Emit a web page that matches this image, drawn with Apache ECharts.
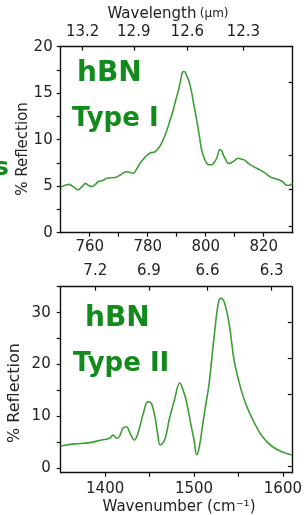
<!DOCTYPE html>
<html>
<head>
<meta charset="utf-8">
<script src="https://cdn.jsdelivr.net/npm/echarts@6/dist/echarts.min.js"></script>
<style>
html,body{margin:0;padding:0;background:#fff;}
#chart{width:305px;height:515px;}
</style>
</head>
<body>
<div id="chart"></div>
<script>
// ---- Data ----
// Type I panel: wavenumber (cm-1) and % reflection
const typeIWavenumber = [750,751.5,753,754.5,756,757.5,758.5,759.5,760.7,762,763,764.5,765.9,767.5,769.3,770.5,772,772.8,775,776.3,777.3,778.5,779.7,781,782.5,784.2,785.5,786.6,787.7,788.8,789.7,790.6,791.5,792.1,792.8,793.4,794.3,795.2,796,796.9,797.8,798.6,799.5,800.3,801.2,802.1,803,803.8,804.9,805.5,806.1,807,807.8,808.7,809.5,811.2,812.5,813.5,814.7,816.5,818.7,820.5,822.2,824,825.6,826.8,827.9,829,830];
const typeIReflection = [4.9,5.1,5.2,4.9,4.6,5.0,5.3,5.1,4.95,5.2,5.5,5.6,5.85,5.9,6.0,6.2,6.5,6.55,6.4,6.9,7.45,7.9,8.3,8.6,8.7,9.3,10.1,11.0,12.1,13.2,14.3,15.3,16.6,17.3,17.3,16.95,16.2,15.0,13.6,12.1,10.4,8.9,8.0,7.5,7.3,7.3,7.6,8.0,8.95,8.8,8.35,7.8,7.45,7.5,7.65,8.0,7.9,7.8,7.45,7.1,6.75,6.4,6.0,5.8,5.65,5.4,5.1,5.1,5.3];
// Type II panel
const typeIIWavenumber = [1350,1366,1381,1396,1405,1409,1413,1416,1420,1424,1428,1433,1436,1439,1443,1448,1452,1456,1459,1462,1467,1472,1478,1484,1487,1491,1497,1500,1503,1506,1510,1513,1517,1523,1528,1531,1535,1540,1545,1551,1558,1568,1577,1588,1599,1610];
const typeIIReflection = [4.3,4.7,4.9,5.45,5.8,6.4,5.8,6.1,7.7,8.0,6.75,5.45,6.3,8.0,10.6,12.8,12.5,9.95,6.75,4.5,5.45,9.3,13.2,16.5,15.4,13.2,8.0,5.45,2.6,4.2,8.7,12.0,16.4,26.0,32.4,32.75,31.5,27.3,20.9,16.4,12.5,8.7,6.1,4.2,3.2,2.55];
// Tick labels
const typeIWavelengthTicks = [13.2,12.9,12.6,12.3];
const typeIIWavelengthTicks = [7.2,6.9,6.6,6.3];
const typeIIYTickLabels = [0,10,20,30];
const typeIIYTicks = [0,5,10,15,20,25,30,35];
const typeIRightTicks = [0.65,4.67,8.35,16.2];
const typeIIRightTicks = [0.3,14.3,21.2,28.2];

const FONT = 'DejaVu Sans';
const lineColor = '#3c9e34';
const textGreen = '#128a1c';
const axisCol = '#111';
const lblCol = '#222';

function baseAxis(extra){
  return Object.assign({
    type:'value',
    splitLine:{show:false},
    axisLine:{show:true,onZero:false,lineStyle:{color:axisCol,width:1.4}},
    axisTick:{show:true,length:4,lineStyle:{color:axisCol,width:1.2}},
    axisLabel:{color:lblCol,fontFamily:FONT,fontSize:15}
  }, extra);
}

const chart = echarts.init(document.getElementById('chart'), null, {renderer:'canvas'});
const option = {
  animation:false,
  backgroundColor:'#fff',
  grid:[
    {left:60.7, right:12.3, top:46.7, height:186},
    {left:60.7, right:12.3, top:286.7, height:186}
  ],
  xAxis:[
    baseAxis({gridIndex:0, position:'bottom', min:750, max:830, interval:10,
      axisTick:{show:true,length:4,lineStyle:{color:axisCol,width:1.2}},
      axisLabel:{color:lblCol,fontFamily:FONT,fontSize:15,margin:7,showMinLabel:false,showMaxLabel:false,
        formatter:v=> (v%20===0 ? String(v) : '')}}),
    baseAxis({gridIndex:0, position:'top', min:750, max:830,
      axisTick:{show:true,inside:true,length:4,customValues:typeIWavelengthTicks.map(l=>10000/l),lineStyle:{color:axisCol,width:1.2}},
      axisLabel:{color:lblCol,fontFamily:FONT,fontSize:15,margin:7,customValues:typeIWavelengthTicks.map(l=>10000/l),
        formatter:v=>(10000/v).toFixed(1)}}),
    baseAxis({gridIndex:1, position:'bottom', min:1350, max:1610, interval:50,
      axisLabel:{color:lblCol,fontFamily:FONT,fontSize:15,margin:9,showMinLabel:false,showMaxLabel:false,
        formatter:v=> (v%100===0 ? String(v) : '')}}),
    baseAxis({gridIndex:1, position:'top', min:1350, max:1610,
      axisTick:{show:true,inside:true,length:4,customValues:typeIIWavelengthTicks.map(l=>10000/l),lineStyle:{color:axisCol,width:1.2}},
      axisLabel:{color:lblCol,fontFamily:FONT,fontSize:15,margin:8,customValues:typeIIWavelengthTicks.map(l=>10000/l),
        formatter:v=>(10000/v).toFixed(1)}})
  ],
  yAxis:[
    baseAxis({gridIndex:0, position:'left', min:0, max:20, interval:2.5,
      axisLabel:{color:lblCol,fontFamily:FONT,fontSize:15,margin:8,
        formatter:v=> (v%5===0 ? String(v) : '')}}),
    baseAxis({gridIndex:0, position:'right', min:0, max:20,
      axisTick:{show:true,inside:true,length:4,customValues:typeIRightTicks,lineStyle:{color:axisCol,width:1.2}},
      axisLabel:{show:false}}),
    baseAxis({gridIndex:1, position:'left', min:-0.85, max:35,
      axisTick:{show:true,length:4,customValues:typeIIYTicks,lineStyle:{color:axisCol,width:1.2}},
      axisLabel:{color:lblCol,fontFamily:FONT,fontSize:15,margin:10,customValues:typeIIYTickLabels}}),
    baseAxis({gridIndex:1, position:'right', min:-0.85, max:35,
      axisTick:{show:true,inside:true,length:4,customValues:typeIIRightTicks,lineStyle:{color:axisCol,width:1.2}},
      axisLabel:{show:false}})
  ],
  series:[
    {type:'line', xAxisIndex:0, yAxisIndex:0, showSymbol:false, smooth:0.3,
      lineStyle:{color:lineColor,width:1.6},
      data:typeIWavenumber.map((w,i)=>[w,typeIReflection[i]])},
    {type:'line', xAxisIndex:2, yAxisIndex:2, showSymbol:false, smooth:0.4,
      lineStyle:{color:lineColor,width:1.6},
      data:typeIIWavenumber.map((w,i)=>[w,typeIIReflection[i]])}
  ],
  graphic:[
    {type:'text', x:168, y:14, style:{text:'{a|Wavelength} {b|(µm)}', align:'center', verticalAlign:'middle',
      rich:{a:{fontFamily:FONT,fontSize:15,fill:lblCol},b:{fontFamily:FONT,fontSize:12,fill:lblCol}}}},
    {type:'text', x:179, y:507, style:{text:'Wavenumber (cm⁻¹)', align:'center', verticalAlign:'middle',
      fontFamily:FONT, fontSize:15, fill:lblCol}},
    {type:'text', x:23.5, y:149, rotation:Math.PI/2, style:{text:'% Reflection', align:'center', verticalAlign:'middle',
      fontFamily:FONT, fontSize:15, fill:lblCol}},
    {type:'text', x:15, y:393, rotation:Math.PI/2, style:{text:'% Reflection', align:'center', verticalAlign:'middle',
      fontFamily:FONT, fontSize:16, fill:lblCol}},
    {type:'text', x:77, y:73.5, style:{text:'hBN', align:'left', verticalAlign:'middle',
      fontFamily:FONT, fontWeight:'bold', fontSize:28, fill:textGreen}},
    {type:'text', x:72, y:119.5, style:{text:'Type I', align:'left', verticalAlign:'middle',
      fontFamily:FONT, fontWeight:'bold', fontSize:26, fill:textGreen}},
    {type:'text', x:85, y:319, style:{text:'hBN', align:'left', verticalAlign:'middle',
      fontFamily:FONT, fontWeight:'bold', fontSize:28, fill:textGreen}},
    {type:'text', x:73, y:364, style:{text:'Type II', align:'left', verticalAlign:'middle',
      fontFamily:FONT, fontWeight:'bold', fontSize:26, fill:textGreen}},
    {type:'text', x:9, y:168, style:{text:'s', align:'right', verticalAlign:'middle',
      fontFamily:FONT, fontWeight:'bold', fontSize:25, fill:textGreen}}
  ]
};
chart.setOption(option);
</script>
</body>
</html>
